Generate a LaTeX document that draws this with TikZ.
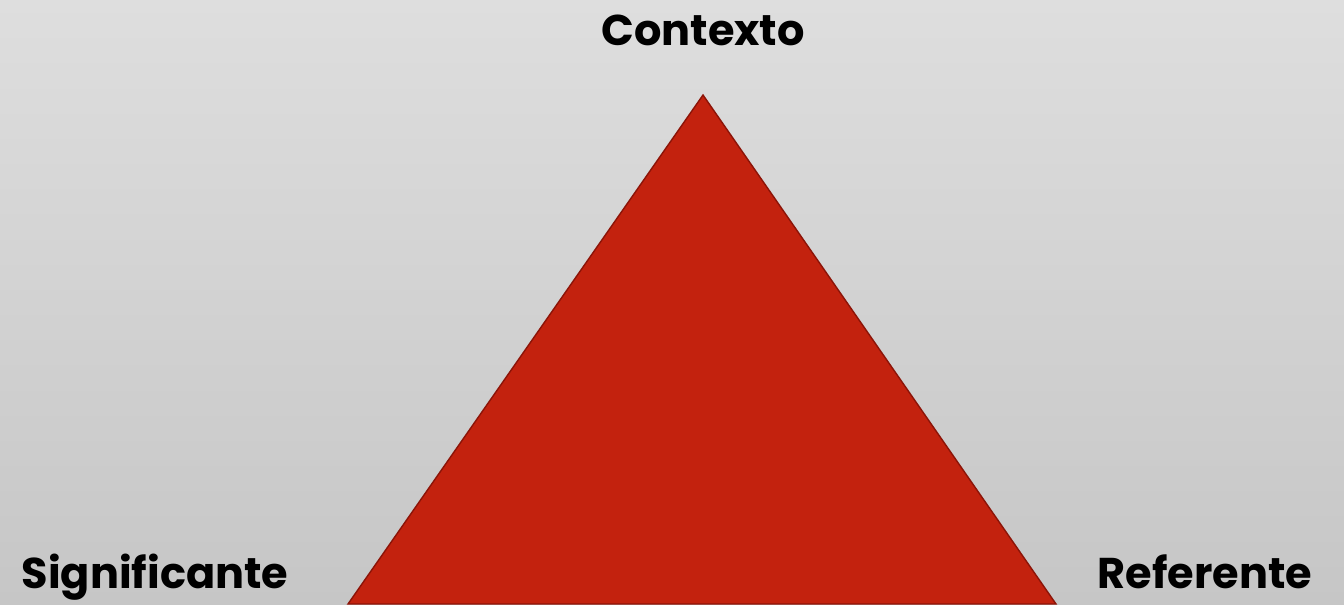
\documentclass[tikz,border=0pt]{standalone}
\usepackage{fontspec}
\setmainfont{Poppins}
\definecolor{bgtop}{RGB}{222,222,222}
\definecolor{bgbottom}{RGB}{198,198,198}
\definecolor{trifill}{RGB}{195,34,14}
\definecolor{triedge}{RGB}{140,20,8}
\begin{document}
\begin{tikzpicture}[
  label/.style={anchor=base, font=\fontsize{24.5}{30}\selectfont\bfseries, text=black, inner sep=0pt},
  corner/.style={fill=trifill, draw=triedge, line width=0.8pt}
]

% Background
\shade[top color=bgtop, bottom color=bgbottom] (0,0) rectangle (26.88,-12.08);
\useasboundingbox (0,0) rectangle (26.88,-12.08);

% Triangle corners
\coordinate (apex) at (14.06,-1.9);
\coordinate (leftc) at (6.96,-12.08);
\coordinate (rightc) at (21.12,-12.08);

\filldraw[corner] (apex) -- (leftc) -- (rightc) -- cycle;

% Labels
\node[label] (ctx) at (14.06,-0.9) {Contexto};
\node[label] (sig) at (3.1,-11.76) {Significante};
\node[label] (ref) at (24.1,-11.76) {Referente};

\end{tikzpicture}
\end{document}
